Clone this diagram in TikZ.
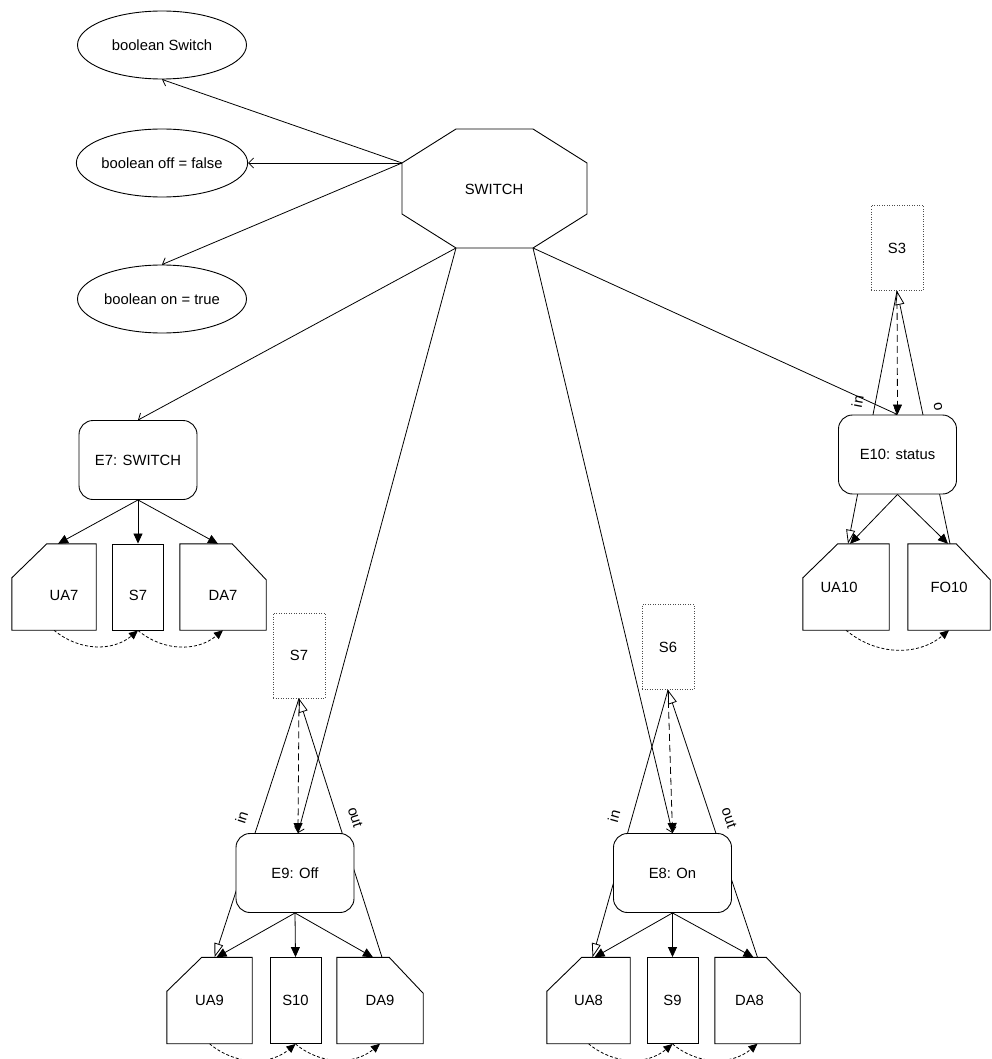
\documentclass[tikz,border=0pt]{standalone}
\usepackage{fontspec}
\setmainfont{Liberation Sans}
\usetikzlibrary{arrows.meta,shapes.geometric}
\pgfdeclarelayer{links}
\pgfdeclarelayer{outlines}
\pgfsetlayers{links,outlines,main}

% box with its top-left corner cut off, drawn round a named node
\newcommand\cutleftbox[1]{%
  \begin{pgfonlayer}{outlines}
    \draw[outline] ([xshift=35pt]#1.north west) -- (#1.north east) -- (#1.south east)
      -- (#1.south west) -- ([yshift=-34pt]#1.north west) -- cycle;
  \end{pgfonlayer}}
% box with its top-right corner cut off, drawn round a named node
\newcommand\cutrightbox[1]{%
  \begin{pgfonlayer}{outlines}
    \draw[outline] (#1.north west) -- ([xshift=-34pt]#1.north east)
      -- ([yshift=-36pt]#1.north east) -- (#1.south east) -- (#1.south west) -- cycle;
  \end{pgfonlayer}}

\begin{document}
\begin{tikzpicture}[x=1pt,y=1pt,
  every node/.style={font=\fontsize{14.8}{17.5}\selectfont},
  outline/.style={draw=black, line width=0.9pt, fill=white},
  attr/.style={ellipse, draw, line width=0.9pt, fill=white,
    minimum width=169pt, minimum height=68pt, inner sep=0pt},
  event/.style={rectangle, draw, rounded corners=14pt, line width=0.9pt,
    fill=white, minimum width=118pt, minimum height=79pt},
  store/.style={rectangle, draw, line width=0.9pt, fill=white,
    minimum width=51pt, minimum height=86pt, inner sep=0pt},
  extstore/.style={rectangle, draw=black!70, line width=0.8pt,
    dash pattern=on 1pt off 1.5pt, fill=white,
    minimum width=52pt, minimum height=85pt, inner sep=0pt},
  tab/.style={rectangle, minimum width=85pt, minimum height=86pt, inner sep=0pt},
  lowtext/.style={text height=27pt, text depth=0pt},
  link/.style={line width=0.8pt},
  assoc/.style={link, -{Straight Barb[length=5pt,width=10pt]}},
  flow/.style={link, -{Triangle[length=10pt,width=9pt]}},
  access/.style={link, -{Triangle[open,length=14pt,width=9pt,fill=white]}},
  trigger/.style={link, dash pattern=on 7pt off 4pt, -{Triangle[length=10pt,width=9pt]}},
  seq/.style={link, dash pattern=on 3pt off 2pt, -{Triangle[length=9pt,width=8pt]}},
  tag/.style={sloped, above=12pt, inner sep=0pt}
]
\useasboundingbox (0,0) rectangle (991,-1059);

% attributes
\node[attr] (bsw)  at (162,-45)  {boolean Switch};
\node[attr] (boff) at (162,-163) {boolean off = false};
\node[attr] (bon)  at (162,-299) {boolean on = true};

% the SWITCH entity (octagon)
\coordinate (o1) at (456,-129);
\coordinate (o2) at (533,-129);
\coordinate (o3) at (587,-163);
\coordinate (o4) at (587,-214);
\coordinate (o5) at (533,-248);
\coordinate (o6) at (456,-248);
\coordinate (o7) at (402,-214);
\coordinate (o8) at (402,-163);
\draw[outline] (o1) -- (o2) -- (o3) -- (o4) -- (o5) -- (o6) -- (o7) -- (o8) -- cycle;
\node (SWITCH) at (494,-189) {SWITCH};

% events
\node[event] (E7)  at (138,-460)   {E7: SWITCH};
\node[event] (E9)  at (295,-873)   {E9: Off};
\node[event] (E8)  at (672.5,-873) {E8: On};
\node[event] (E10) at (897.5,-454.5) {E10: status};

% external stores
\node[extstore] (extS7) at (299,-655.5) {S7};
\node[extstore] (extS6) at (668,-647)   {S6};
\node[extstore] (extS3) at (897,-248)   {S3};

% E7 group
\node[tab, lowtext, minimum width=84pt] (UA7) at (54,-587) {\hspace*{20pt}UA7};
\node[store, lowtext] (S7) at (138,-587) {S7};
\node[tab, lowtext, minimum width=86pt] (DA7) at (223,-587) {DA7};
\cutleftbox{UA7}
\cutrightbox{DA7}

% E9 group
\node[tab] (UA9) at (209.5,-1000.5) {UA9};
\node[store] (S10) at (295.5,-1000.5) {S10};
\node[tab, minimum width=86pt] (DA9) at (380,-1000.5) {DA9};
\cutleftbox{UA9}
\cutrightbox{DA9}

% E8 group
\node[tab, minimum width=83pt] (UA8) at (588.5,-1000.5) {UA8};
\node[store] (S9) at (672.5,-1000.5) {S9};
\node[tab] (DA8) at (757.5,-1000.5) {DA8\hspace*{16pt}};
\cutleftbox{UA8}
\cutrightbox{DA8}

% E10 group
\node[tab, minimum width=86pt] (UA10) at (846,-587) {UA10\hspace*{14pt}};
\node[tab, minimum width=82pt] (FO10) at (949,-587) {FO10};
\cutleftbox{UA10}
\cutrightbox{FO10}

\begin{pgfonlayer}{links}
  % SWITCH to its attributes and events
  \draw[assoc] (o8) -- (bsw.south);
  \draw[assoc] (o8) -- (boff.east);
  \draw[assoc] (o8) -- (bon.north);
  \draw[assoc] (o6) -- (E7.north);
  \draw[assoc] (o6) -- ([xshift=3pt]E9.north);
  \draw[assoc] (o5) -- (E8.north);
  \draw[assoc] (o5) -- (E10.north);

  % E7
  \draw[flow] (E7.south) -- ([xshift=4pt]UA7.north);
  \draw[flow] (E7.south) -- (S7.north);
  \draw[flow] (E7.south) -- ([xshift=-5pt]DA7.north);
  \draw[seq] (UA7.south) to[out=-40,in=-140] (S7.south);
  \draw[seq] (S7.south) to[out=-40,in=-140] (DA7.south);

  % E9
  \draw[trigger] (extS7.south) -- ([xshift=3pt]E9.north);
  \draw[access] (extS7.south) -- node[tag, pos=0.48] {in} ([xshift=5pt]UA9.north);
  \draw[access] ([xshift=2pt]DA9.north) -- node[tag, pos=0.52] {out} (extS7.south);
  \draw[flow] (E9.south) -- ([xshift=7pt]UA9.north);
  \draw[flow] (E9.south) -- (S10.north);
  \draw[flow] (E9.south) -- ([xshift=-7pt]DA9.north);
  \draw[seq] (UA9.south) to[out=-40,in=-140] (S10.south);
  \draw[seq] (S10.south) to[out=-40,in=-140] (DA9.south);

  % E8
  \draw[trigger] (extS6.south) -- (E8.north);
  \draw[access] (extS6.south) -- node[tag, pos=0.49] {in} ([xshift=4pt]UA8.north);
  \draw[access] (DA8.north) -- node[tag, pos=0.5] {out} (extS6.south);
  \draw[flow] (E8.south) -- ([xshift=6pt]UA8.north);
  \draw[flow] (E8.south) -- (S9.north);
  \draw[flow] (E8.south) -- ([xshift=-4pt]DA8.north);
  \draw[seq] (UA8.south) to[out=-40,in=-140] (S9.south);
  \draw[seq] (S9.south) to[out=-40,in=-140] (DA8.south);

  % E10
  \draw[trigger] (extS3.south) -- (E10.north);
  \draw[access] (extS3.south) -- node[tag, pos=0.45] {in} ([xshift=2pt]UA10.north);
  \draw[access] ([xshift=1pt]FO10.north) -- node[tag, pos=0.53] {o} (extS3.south);
  \draw[flow] (E10.south) -- ([xshift=4pt]UA10.north);
  \draw[flow] (E10.south) -- ([xshift=-1pt]FO10.north);
  \draw[seq] (UA10.south) to[out=-40,in=-140] (FO10.south);
\end{pgfonlayer}
\end{tikzpicture}
\end{document}
